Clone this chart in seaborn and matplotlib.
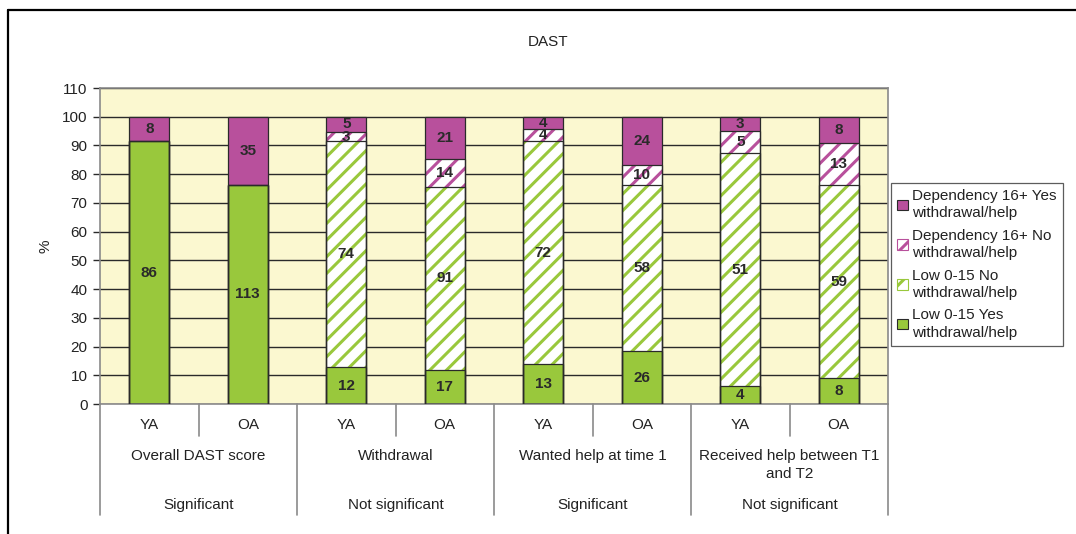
import numpy as np
import pandas as pd
import matplotlib
matplotlib.use("Agg")
import matplotlib.pyplot as plt
import seaborn as sns
from matplotlib.patches import Patch, Rectangle
from matplotlib.lines import Line2D
import matplotlib.transforms as mtrans

# ---------------- data ----------------
ages = ["YA", "OA"] * 4
groups = ["Overall DAST score", "Withdrawal", "Wanted help at time 1",
          "Received help between T1\nand T2"]
significance = ["Significant", "Not significant", "Significant", "Not significant"]
series = ["Low 0-15 Yes\nwithdrawal/help", "Low 0-15 No\nwithdrawal/help",
          "Dependency 16+ No\nwithdrawal/help", "Dependency 16+ Yes\nwithdrawal/help"]
# stacked percentages (bottom to top)
low_yes_pct = [91.5, 76.4, 12.8, 11.9, 14.0, 18.4, 6.3, 9.1]
low_no_pct = [0.0, 0.0, 78.7, 63.6, 77.4, 57.8, 81.0, 67.0]
dep_no_pct = [0.0, 0.0, 3.2, 9.8, 4.3, 6.9, 7.9, 14.8]
dep_yes_pct = [8.5, 23.6, 5.3, 14.7, 4.3, 16.9, 4.8, 9.1]
# counts printed inside the segments
low_yes_n = [86, 113, 12, 17, 13, 26, 4, 8]
low_no_n = [None, None, 74, 91, 72, 58, 51, 59]
dep_no_n = [None, None, 3, 14, 4, 10, 5, 13]
dep_yes_n = [8, 35, 5, 21, 4, 24, 3, 8]

yticks = list(range(0, 111, 10))

# ---------------- style ----------------
sns.set_style("white")
plt.rcParams["font.family"] = ["Liberation Sans", "DejaVu Sans"]
plt.rcParams["hatch.linewidth"] = 2.2

GREEN = "#99C83C"
MAGENTA = "#B8509C"
BG = "#FBF8D0"
DARK = "#2a2a2a"
GRAY = "#8a8a8a"
FS = 11

keys = [f"{groups[i // 2]}|{ages[i]}|{i}" for i in range(8)]
layers = [low_yes_pct, low_no_pct, dep_no_pct, dep_yes_pct]
cum = np.cumsum(np.array(layers), axis=0)
df = pd.DataFrame({"key": keys})
for j in range(4):
    df[f"cum{j}"] = cum[j]

W, H = 1076, 534
fig = plt.figure(figsize=(W / 100, H / 100), dpi=100)
L, R, T, B = 100, 888, 88, 404
ax = fig.add_axes([L / W, 1 - B / H, (R - L) / W, (B - T) / H])
ax.set_facecolor(BG)

styles = [
    dict(color=GREEN, hatch=None, edgecolor=GREEN),
    dict(color="white", hatch="//", edgecolor=GREEN),
    dict(color="white", hatch="//", edgecolor=MAGENTA),
    dict(color=MAGENTA, hatch=None, edgecolor=MAGENTA),
]
# draw from the top layer down so lower cumulative bars overlay
for j in [3, 2, 1, 0]:
    st = styles[j]
    kw = dict(edgecolor=st["edgecolor"], linewidth=0)
    if st["hatch"]:
        kw["hatch"] = st["hatch"]
    sns.barplot(data=df, x="key", y=f"cum{j}", order=keys, color=st["color"],
                saturation=1, width=0.41, errorbar=None, ax=ax, zorder=2, **kw)

# outlines of each cumulative bar
for p in list(ax.patches):
    ax.add_patch(Rectangle(p.get_xy(), p.get_width(), p.get_height(), fill=False,
                           edgecolor=DARK, linewidth=0.9, zorder=3))

# segment labels
counts = [low_yes_n, low_no_n, dep_no_n, dep_yes_n]
for j in range(4):
    for i in range(8):
        n = counts[j][i]
        if n is None:
            continue
        bottom = cum[j - 1][i] if j > 0 else 0
        yc = bottom + layers[j][i] / 2
        ax.text(i, yc, str(n), ha="center", va="center", fontsize=FS,
                fontweight="bold", color=DARK, zorder=4)

ax.set_ylim(0, 110)
ax.set_xlim(-0.5, 7.5)
ax.set_yticks(yticks)
ax.set_yticklabels([str(t) for t in yticks], fontsize=FS, color="#222")
ax.tick_params(axis="y", which="both", left=True, length=5, width=1,
               color=DARK, pad=4, direction="out")
ax.set_xticks([])
ax.set_xlabel("")
ax.set_ylabel("%", fontsize=FS, color="#222")
ax.yaxis.set_label_coords(-(L - 52) / (R - L), 0.5)
ax.grid(axis="y", color=DARK, linewidth=1)
ax.set_axisbelow(True)
for s in ax.spines.values():
    s.set_color(GRAY)
    s.set_linewidth(1.2)

# multi-level category axis
tr = mtrans.blended_transform_factory(ax.transData, ax.transAxes)
ph = B - T
def yfrac(py):
    return (B - py) / ph
for b in np.arange(-0.5, 8, 1.0):
    idx = int(b + 0.5)
    long = idx % 2 == 0
    ybot = yfrac(515) if long else yfrac(436)
    ax.add_line(Line2D([b, b], [0, ybot], transform=tr, color=GRAY,
                       linewidth=1.2, clip_on=False))
for i in range(8):
    ax.text(i, yfrac(425), ages[i], transform=tr, ha="center", va="center",
            fontsize=FS, color="#222", clip_on=False)
for g in range(4):
    ax.text(2 * g + 0.5, yfrac(449), groups[g], transform=tr, ha="center",
            va="top", fontsize=FS, color="#222", clip_on=False,
            linespacing=1.4)
    ax.text(2 * g + 0.5, yfrac(505), significance[g], transform=tr,
            ha="center", va="center", fontsize=FS, color="#222",
            clip_on=False)

# title
fig.text(548 / W, 1 - 42 / H, "DAST", ha="center", va="center",
         fontsize=FS, color="#222")

# legend
handles = [
    Patch(facecolor=MAGENTA, edgecolor=DARK, linewidth=0.8),
    Patch(facecolor="white", edgecolor=MAGENTA, hatch="//", linewidth=0.8),
    Patch(facecolor="white", edgecolor=GREEN, hatch="//", linewidth=0.8),
    Patch(facecolor=GREEN, edgecolor=DARK, linewidth=0.8),
]
leg = fig.legend(handles, list(reversed(series)), loc="upper left",
                 bbox_to_anchor=(891 / W, 1 - 183 / H), fontsize=FS,
                 frameon=True, fancybox=False, edgecolor="#333",
                 handlelength=0.7, handleheight=0.7, handletextpad=0.3,
                 labelspacing=0.55, borderpad=0.4, borderaxespad=0)
leg.get_frame().set_linewidth(0.9)
for t in leg.get_texts():
    t.set_color("#222")
    t.set_linespacing(1.3)

# outer chart border (top and left edges visible)
fig.add_artist(Line2D([7.5 / W, 1], [1 - 9.5 / H, 1 - 9.5 / H],
                      transform=fig.transFigure, color="black", linewidth=1.6))
fig.add_artist(Line2D([7.5 / W, 7.5 / W], [0, 1 - 9.5 / H],
                      transform=fig.transFigure, color="black", linewidth=1.6))

fig.savefig("out.png", dpi=100)
